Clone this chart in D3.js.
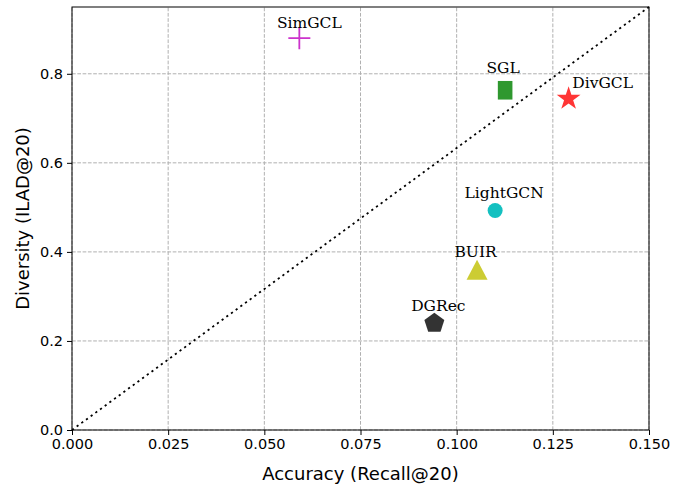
<!DOCTYPE html>
<html lang="en">
<head>
  <meta charset="UTF-8">
  <title>Accuracy vs Diversity</title>
  <script src="https://d3js.org/d3.v7.min.js"></script>
  <style>
    body { margin: 0; background: white; }
    svg { display: block; }
    .tick text { font-family: "DejaVu Sans", sans-serif; font-size: 14.5px; fill: black; }
    .axis-label { font-family: "DejaVu Sans", sans-serif; font-size: 18px; fill: black; }
    .pt-label { font-family: "DejaVu Serif", serif; font-size: 15.5px; fill: black; }
  </style>
</head>
<body>
  <div id="chart"></div>
  <script>
    // data
    const models = ["SimGCL", "SGL", "DivGCL", "LightGCN", "BUIR", "DGRec"]
    const recall = [0.0591, 0.1126, 0.1291, 0.1100, 0.1053, 0.0942]
    const ilad = [0.880, 0.763, 0.744, 0.493, 0.360, 0.240]
    const markers = ["plus", "square", "star", "circle", "triangle", "pentagon"]
    const colors = ["#cc33cc", "#2f982f", "#ff3535", "#14c0c0", "#cccc33", "#333333"]
    // where each name sits relative to its marker
    const labelDx = [10, -2, 34, 9, -1.5, 4]
    const labelDy = [-10.6, -17, -10.7, -12.4, -12.7, -12.3]

    const xTicks = [0, 0.025, 0.05, 0.075, 0.1, 0.125, 0.15]
    const yTicks = [0, 0.2, 0.4, 0.6, 0.8]
    const xMax = 0.15
    const yMax = 0.95

    const width = 689
    const height = 486
    const margin = { top: 7, right: 40, bottom: 56, left: 72 }

    const svg = d3.select("#chart")
      .append("svg")
      .attr("width", width)
      .attr("height", height)

    const x = d3.scaleLinear().domain([0, xMax]).range([margin.left, width - margin.right])
    const y = d3.scaleLinear().domain([0, yMax]).range([height - margin.bottom, margin.top])

    // grid
    svg.append("g")
      .selectAll("line")
      .data(xTicks)
      .enter()
      .append("line")
      .attr("x1", d => x(d)).attr("x2", d => x(d))
      .attr("y1", y(0)).attr("y2", y(yMax))
      .attr("stroke", "#b0b0b0")
      .attr("stroke-dasharray", "3.7,1.6")

    svg.append("g")
      .selectAll("line")
      .data(yTicks)
      .enter()
      .append("line")
      .attr("x1", x(0)).attr("x2", x(xMax))
      .attr("y1", d => y(d)).attr("y2", d => y(d))
      .attr("stroke", "#b0b0b0")
      .attr("stroke-dasharray", "3.7,1.6")

    // diagonal reference
    svg.append("line")
      .attr("x1", x(0)).attr("y1", y(0))
      .attr("x2", x(xMax)).attr("y2", y(yMax))
      .attr("stroke", "black")
      .attr("stroke-width", 1.8)
      .attr("stroke-dasharray", "2.2,3.6")

    // axes
    const xAxis = svg.append("g")
      .attr("transform", `translate(0,${y(0)})`)
      .call(d3.axisBottom(x).tickValues(xTicks).tickFormat(d3.format(".3f")).tickSize(5).tickPadding(4))
    const yAxis = svg.append("g")
      .attr("transform", `translate(${x(0)},0)`)
      .call(d3.axisLeft(y).tickValues(yTicks).tickFormat(d3.format(".1f")).tickSize(5).tickPadding(4))
    ;[xAxis, yAxis].forEach(a => {
      a.select(".domain").remove()
      a.selectAll(".tick line").attr("stroke", "black")
    })

    svg.append("rect")
      .attr("x", x(0)).attr("y", y(yMax))
      .attr("width", x(xMax) - x(0))
      .attr("height", y(0) - y(yMax))
      .attr("fill", "none")
      .attr("stroke", "black")
      .attr("stroke-width", 1)

    svg.append("text")
      .attr("class", "axis-label")
      .attr("x", (x(0) + x(xMax)) / 2)
      .attr("y", 480)
      .attr("text-anchor", "middle")
      .text("Accuracy (Recall@20)")

    svg.append("text")
      .attr("class", "axis-label")
      .attr("transform", `translate(29,${(y(0) + y(yMax)) / 2}) rotate(-90)`)
      .attr("text-anchor", "middle")
      .text("Diversity (ILAD@20)")

    // marker shapes
    const polygon = (pts) => "M" + pts.map(p => p.join(",")).join("L") + "Z"
    const regular = (n, r, rot) => d3.range(n).map(i => {
      const a = rot + i * 2 * Math.PI / n
      return [r * Math.sin(a), -r * Math.cos(a)]
    })
    const shapes = {
      plus: "M-11,0H11M0,-11V11",
      square: "M-7.3,-9.3H7.3V9.3H-7.3Z",
      circle: d3.symbol(d3.symbolCircle, Math.PI * 7.5 * 7.5)(),
      triangle: polygon([[0, -10], [10.5, 10], [-10.5, 10]]),
      pentagon: polygon(regular(5, 10.5, 0)),
      star: polygon(d3.range(10).map(i => {
        const r = i % 2 === 0 ? 12.5 : 12.5 * 0.382
        const a = i * Math.PI / 5
        return [r * Math.sin(a), -r * Math.cos(a)]
      }))
    }

    const idx = d3.range(models.length)

    svg.append("g")
      .selectAll("path")
      .data(idx)
      .enter()
      .append("path")
      .attr("transform", i => `translate(${x(recall[i])},${y(ilad[i])})`)
      .attr("d", i => shapes[markers[i]])
      .attr("fill", i => markers[i] === "plus" ? "none" : colors[i])
      .attr("stroke", i => markers[i] === "plus" ? colors[i] : "none")
      .attr("stroke-width", 1.8)

    svg.append("g")
      .selectAll("text")
      .data(idx)
      .enter()
      .append("text")
      .attr("class", "pt-label")
      .attr("x", i => x(recall[i]) + labelDx[i])
      .attr("y", i => y(ilad[i]) + labelDy[i])
      .attr("text-anchor", "middle")
      .text(i => models[i])
  </script>
</body>
</html>
